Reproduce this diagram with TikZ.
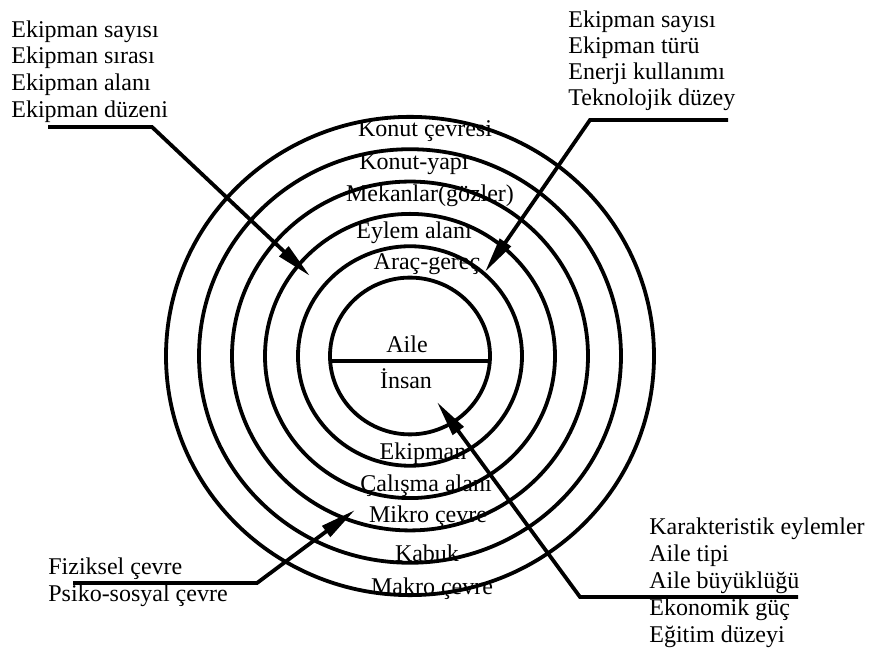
\documentclass[tikz,border=0pt]{standalone}
\usepackage{fontspec}
\setmainfont{Liberation Serif}
\usetikzlibrary{arrows.meta}

\begin{document}
\begin{tikzpicture}[x=0.5pt, y=-0.5pt, >={Triangle[length=18pt, width=6.5pt]},
    ring/.style={line width=1.9pt},
    lead/.style={line width=1.9pt, ->},
    lbl/.style={anchor=base, inner sep=0pt, font=\fontsize{12}{14}\selectfont},
    blk/.style={anchor=north west, align=left, inner sep=0pt}]
    \useasboundingbox (0,0) rectangle (869,651);

    % 1. Halkalar
    \coordinate (c) at (410,356);
    \foreach \r in {80,112,145,178,211,244}
        \draw[ring] (c) circle[x radius=\r, y radius=0.98*\r];
    \draw[ring] (330,361) -- (490,361);

    % 2. Halka yazıları (üst)
    \node[lbl] (konut) at (425,137) {Konut çevresi};
    \node[lbl] (yapi)  at (414,170) {Konut-yapı};
    \node[lbl] (mekan) at (430,202) {Mekanlar(gözler)};
    \node[lbl] (eylem) at (414,239) {Eylem alanı};
    \node[lbl] (arac)  at (427,270) {Araç-gereç};
    \node[lbl] (aile)  at (407,353) {Aile};
    \node[lbl] (insan) at (406,389) {İnsan};
    % Halka yazıları (alt)
    \node[lbl] (ekipman) at (423,460) {Ekipman};
    \node[lbl] (calisma) at (426,492) {Çalışma alanı};
    \node[lbl] (mikro)   at (428,523) {Mikro çevre};
    \node[lbl] (kabuk)   at (427,562) {Kabuk};
    \node[lbl] (makro)   at (432,595) {Makro çevre};

    % 3. Dış açıklamalar
    \node[blk, font=\fontsize{12}{13.4}\selectfont] (ekipSol) at (11,20)
        {Ekipman sayısı\\ Ekipman sırası\\ Ekipman alanı\\ Ekipman düzeni};
    \node[blk, font=\fontsize{12}{13}\selectfont] (ekipSag) at (568,10)
        {Ekipman sayısı\\ Ekipman türü\\ Enerji kullanımı\\ Teknolojik düzey};
    \node[blk, font=\fontsize{12}{13.5}\selectfont] (cevre) at (48,557)
        {Fiziksel çevre\\ Psiko-sosyal çevre};
    \node[blk, font=\fontsize{12}{13.5}\selectfont] (aileOz) at (649,517)
        {Karakteristik eylemler\\ Aile tipi\\ Aile büyüklüğü\\ Ekonomik güç\\ Eğitim düzeyi};

    % 4. Oklar
    \coordinate (tlStart) at (48,127);
    \coordinate (tlBend)  at (152,127);
    \coordinate (tlTip)   at (310,276);
    \draw[lead] (tlStart) -- (tlBend) -- (tlTip);

    \coordinate (trStart) at (728,120);
    \coordinate (trBend)  at (590,120);
    \coordinate (trTip)   at (485,272);
    \draw[lead] (trStart) -- (trBend) -- (trTip);

    \coordinate (blStart) at (73,583);
    \coordinate (blBend)  at (257,583);
    \coordinate (blTip)   at (355,510);
    \draw[lead] (blStart) -- (blBend) -- (blTip);

    \coordinate (brStart) at (798,597);
    \coordinate (brBend)  at (580,597);
    \coordinate (brTip)   at (437,402);
    \draw[lead] (brStart) -- (brBend) -- (brTip);

\end{tikzpicture}
\end{document}
